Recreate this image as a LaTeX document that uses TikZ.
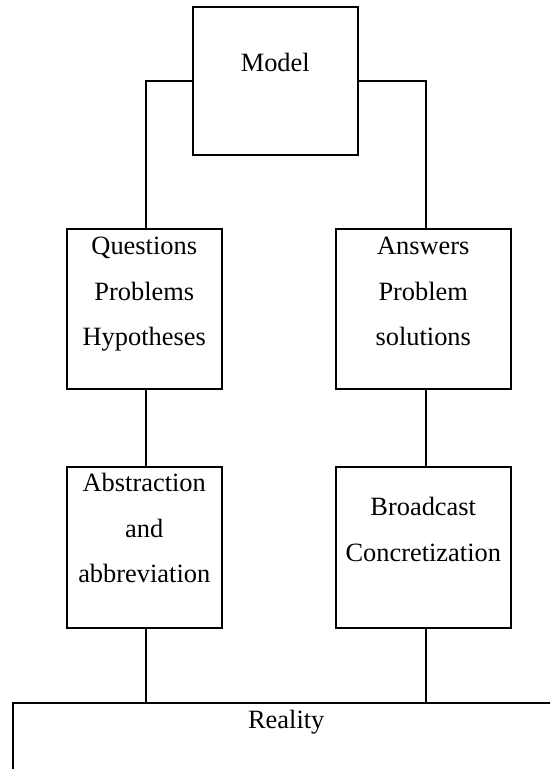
\documentclass[tikz,border=0pt]{standalone}
\usepackage{fontspec}
\setmainfont{Liberation Serif}
\tikzset{
  block/.style={
    draw,
    line width=1.5pt,
    inner sep=0pt,
    anchor=north west,
    font=\fontsize{26.4}{45.5}\selectfont
  },
  link/.style={line width=1.5pt}
}
% width, height, first baseline, text
\newcommand{\boxtext}[4]{\parbox[t][#2pt][t]{#1pt}{\centering\rule{0pt}{#3pt}#4}}

\begin{document}
\begin{tikzpicture}[x=1pt,y=-1pt]
  \clip (0,0) rectangle (550,769);

  \node[block] (model) at (192,6) {\boxtext{165}{148}{65}{Model}};

  \node[block] (quest) at (66,228) {\boxtext{155}{160}{26}{Questions\\Problems\\Hypotheses}};
  \node[block] (answ) at (335,228) {\boxtext{175}{160}{26}{Answers\\Problem\\solutions}};

  \node[block] (abstr) at (66,466) {\boxtext{155}{161}{25}{Abstraction\\and\\abbreviation}};
  \node[block] (broad) at (335,466) {\boxtext{175}{161}{49}{Broadcast\\Concretization}};

  \node[block] (real) at (12,702) {\boxtext{547}{100}{26}{Reality}};

  \draw[link] (model.west) -| ([xshift=1.5pt]quest.north);
  \draw[link] (model.east) -| ([xshift=2.5pt]answ.north);

  \draw[link] ([xshift=1.5pt]quest.south) -- ([xshift=1.5pt]abstr.north);
  \draw[link] ([xshift=2.5pt]answ.south) -- ([xshift=2.5pt]broad.north);

  \draw[link] ([xshift=1.5pt]abstr.south) -- ([xshift=1.5pt]abstr.south |- real.north);
  \draw[link] ([xshift=2.5pt]broad.south) -- ([xshift=2.5pt]broad.south |- real.north);

\end{tikzpicture}
\end{document}
